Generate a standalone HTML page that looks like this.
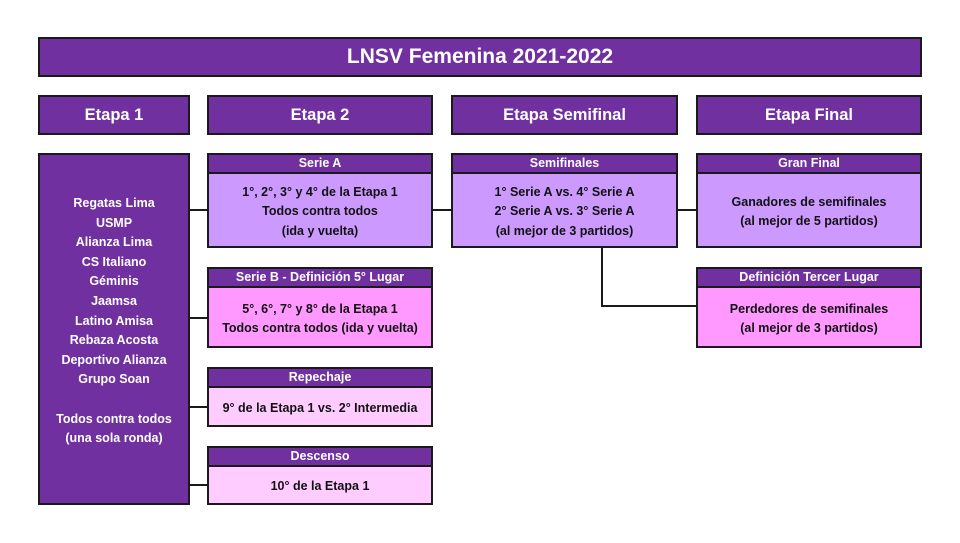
<!DOCTYPE html>
<html><head><meta charset="utf-8"><style>
body{margin:0;width:960px;height:543px;background:#fff;position:relative;font-family:"Liberation Sans",sans-serif;font-weight:bold;overflow:hidden}
.b{position:absolute;box-sizing:border-box;border:2px solid #1a1a1a;background:#7030a0;color:#fff;display:flex;align-items:center;justify-content:center;text-align:center}
.h{position:absolute;box-sizing:border-box;border:2px solid #1a1a1a;background:#7030a0;color:#fff;text-align:center;font-size:12.5px;line-height:17px}
.c{position:absolute;box-sizing:border-box;border:2px solid #1a1a1a;border-top:none;color:#111;display:flex;align-items:center;justify-content:center;text-align:center;font-size:12.5px;line-height:19.5px;padding-top:4px}
.l{position:absolute;background:#1a1a1a}
.p{background:#cc99ff}.k{background:#ff99ff}.q{background:#ffccff}
</style></head><body>
<div class="b" style="left:38px;top:37px;width:884px;height:40px;font-size:21px">LNSV Femenina 2021-2022</div>
<div class="b" style="left:38px;top:95px;width:152px;height:40px;font-size:16.5px">Etapa 1</div>
<div class="b" style="left:207px;top:95px;width:226px;height:40px;font-size:16.5px">Etapa 2</div>
<div class="b" style="left:451px;top:95px;width:227px;height:40px;font-size:16.5px">Etapa Semifinal</div>
<div class="b" style="left:696px;top:95px;width:226px;height:40px;font-size:16.5px">Etapa Final</div>

<div class="l" style="left:189px;top:209px;width:19px;height:2px"></div>
<div class="l" style="left:189px;top:317px;width:19px;height:2px"></div>
<div class="l" style="left:189px;top:406px;width:19px;height:2px"></div>
<div class="l" style="left:189px;top:484px;width:19px;height:2px"></div>
<div class="l" style="left:432px;top:209px;width:20px;height:2px"></div>
<div class="l" style="left:677px;top:209px;width:20px;height:2px"></div>
<div class="l" style="left:601px;top:247px;width:2px;height:60px"></div>
<div class="l" style="left:601px;top:305px;width:96px;height:2px"></div>

<div class="b" style="left:38px;top:153px;width:152px;height:352px;display:block;font-size:12.5px;line-height:19.6px;padding-top:39px">Regatas Lima<br>USMP<br>Alianza Lima<br>CS Italiano<br>Géminis<br>Jaamsa<br>Latino Amisa<br>Rebaza Acosta<br>Deportivo Alianza<br>Grupo Soan<br><br>Todos contra todos<br>(una sola ronda)</div>

<div class="h" style="left:207px;top:153px;width:226px;height:21px">Serie A</div>
<div class="c p" style="left:207px;top:174px;width:226px;height:74px">1°, 2°, 3° y 4° de la Etapa 1<br>Todos contra todos<br>(ida y vuelta)</div>

<div class="h" style="left:207px;top:267px;width:226px;height:21px">Serie B - Definición 5° Lugar</div>
<div class="c k" style="left:207px;top:288px;width:226px;height:60px">5°, 6°, 7° y 8° de la Etapa 1<br>Todos contra todos (ida y vuelta)</div>

<div class="h" style="left:207px;top:367px;width:226px;height:21px">Repechaje</div>
<div class="c q" style="left:207px;top:388px;width:226px;height:39px">9° de la Etapa 1 vs. 2° Intermedia</div>

<div class="h" style="left:207px;top:446px;width:226px;height:21px">Descenso</div>
<div class="c q" style="left:207px;top:467px;width:226px;height:38px">10° de la Etapa 1</div>

<div class="h" style="left:451px;top:153px;width:227px;height:21px">Semifinales</div>
<div class="c p" style="left:451px;top:174px;width:227px;height:74px">1° Serie A vs. 4° Serie A<br>2° Serie A vs. 3° Serie A<br>(al mejor de 3 partidos)</div>

<div class="h" style="left:696px;top:153px;width:226px;height:21px">Gran Final</div>
<div class="c p" style="left:696px;top:174px;width:226px;height:74px">Ganadores de semifinales<br>(al mejor de 5 partidos)</div>

<div class="h" style="left:696px;top:267px;width:226px;height:21px">Definición Tercer Lugar</div>
<div class="c k" style="left:696px;top:288px;width:226px;height:60px">Perdedores de semifinales<br>(al mejor de 3 partidos)</div>
</body></html>
